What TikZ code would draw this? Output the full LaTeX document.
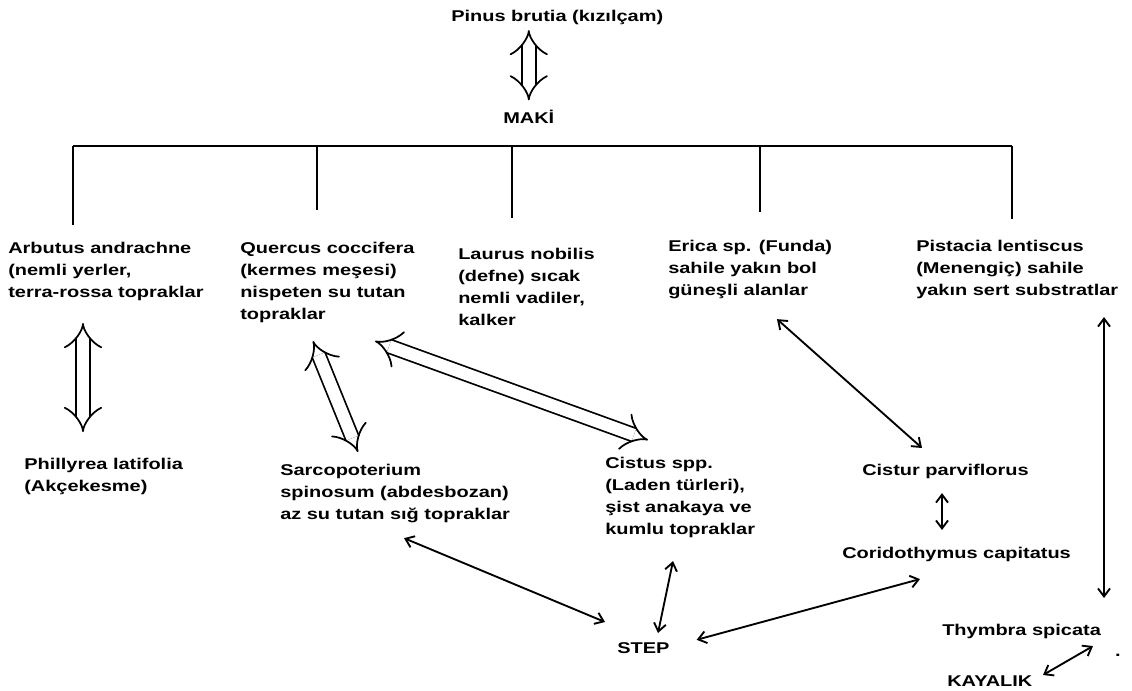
\documentclass[tikz,border=0pt]{standalone}
\usepackage{fontspec}
\setmainfont{Liberation Sans}[FakeStretch=1.28]
\usetikzlibrary{arrows.meta,calc}

\begin{document}
\begin{tikzpicture}[x=0.75pt,y=-0.75pt,font=\fontsize{11.7}{16.5}\selectfont\bfseries,
   >={Straight Barb[length=6pt,width=9pt]},
   plant/.style={anchor=north west,align=left,inner sep=0pt},
   tree/.style={line width=1.9pt},
   link/.style={line width=1.4pt,<->},
   hollow/.style={double,double distance=9pt,line width=1.3pt,{Implies}-{Implies}}]
   \useasboundingbox (0,0) rectangle (1132,691);
   % Top of the tree
   \node [plant] (pinus) at (451,10) {Pinus brutia (kızılçam)};
   \node [anchor=base west,inner sep=0pt] (maki) at (503,124) {MAKİ};
   \draw [hollow] ($(pinus.south -| maki.north)+(0,5)$) -- ($(maki.north)+(0,-10)$);
   % Branches
   \draw [tree] (73,146) -- (1012,146);
   \foreach \x/\y in {73/225,317/210,512/218,760/212,1012/219}
      \draw [tree] (\x,146) -- (\x,\y);
   % Plants under the branches
   \node [plant] (arbutus)  at (8,242)   {Arbutus andrachne\\(nemli yerler,\\terra-rossa topraklar};
   \node [plant] (quercus)  at (240,242) {Quercus coccifera\\(kermes meşesi)\\nispeten su tutan\\topraklar};
   \node [plant] (laurus)   at (458,248) {Laurus nobilis\\(defne) sıcak\\nemli vadiler,\\kalker};
   \node [plant] (erica)    at (668,240) {Erica sp. (Funda)\\sahile yakın bol\\güneşli alanlar};
   \node [plant] (pistacia) at (916,240) {Pistacia lentiscus\\(Menengiç) sahile\\yakın sert substratlar};
   % Lower level
   \node [plant] (phillyrea) at (24,458)  {Phillyrea latifolia\\(Akçekesme)};
   \node [plant] (sarco)     at (280,464) {Sarcopoterium\\spinosum (abdesbozan)\\az su tutan sığ topraklar};
   \node [plant] (cistus)    at (605,457) {Cistus spp.\\(Laden türleri),\\şist anakaya ve\\kumlu topraklar};
   \node [plant] (cistur)    at (862,464) {Cistur parviflorus};
   \node [plant] (corido)    at (842,547) {Coridothymus capitatus};
   \node [plant] (step)      at (617,642) {STEP};
   \node [plant] (thymbra)   at (942,624) {Thymbra spicata};
   \node [plant] (kayalik)   at (947,675) {KAYALIK};
   \node [inner sep=0pt] (dot) at (1118,655) {.};
   % Hollow arrows
   \draw [hollow] ($(arbutus.south west)+(75,22)$) -- ($(phillyrea.north west)+(59,-26)$);
   \draw [hollow] ($(quercus.south west)+(73,18)$) -- ($(sarco.north west)+(78,-12)$);
   \draw [hollow] ($(quercus.south west)+(135,18)$) -- ($(cistus.north west)+(43,-17)$);
   % Thin arrows
   \draw [link] ($(erica.south west)+(109,20)$) -- ($(cistur.north west)+(60,-16)$);
   \draw [link] ($(pistacia.south west)+(188,18)$) -- ($(thymbra.north west)+(162,-26)$);
   \draw [link] ($(cistur.south west)+(80,14)$) -- ($(corido.north west)+(100,-17)$);
   \draw [link] ($(sarco.south west)+(124,15)$) -- ($(step.north west)+(-12,-20)$);
   \draw [link] ($(cistus.south west)+(68,23)$) -- ($(step.north west)+(41,-9)$);
   \draw [link] ($(step.east)+(27,-8)$) -- ($(corido.south west)+(78,17)$);
   \draw [link] ($(thymbra.south west)+(151,7)$) -- ($(kayalik.north west)+(96,0)$);
\end{tikzpicture}
\end{document}
